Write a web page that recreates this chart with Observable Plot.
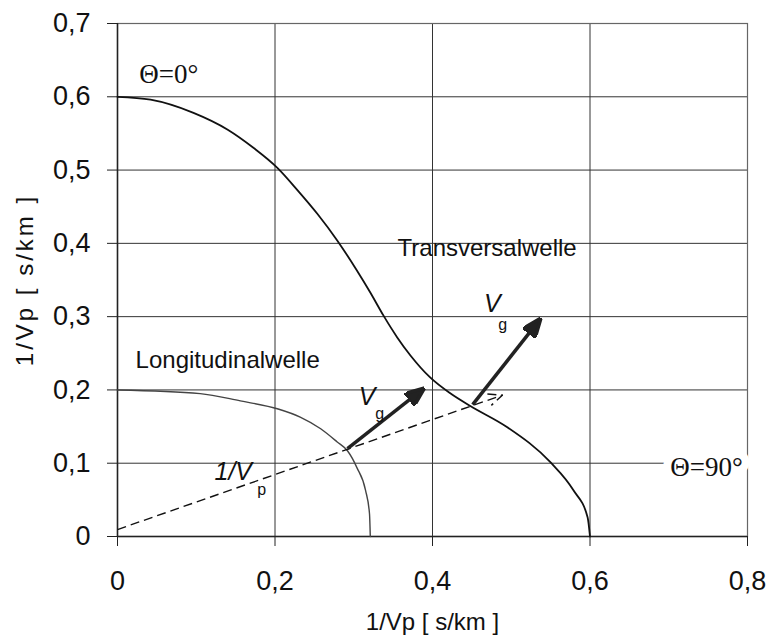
<!DOCTYPE html>
<html>
<head>
<meta charset="utf-8">
<script src="https://cdn.jsdelivr.net/npm/d3@7"></script>
<script src="https://cdn.jsdelivr.net/npm/@observablehq/plot@0.6"></script>
<style>
  body { margin: 0; background: #fff; }
  #chart { width: 767px; height: 640px; }
</style>
</head>
<body>
<div id="chart"></div>
<script>
// ---- data ----
const xTicks = [0, 0.2, 0.4, 0.6, 0.8];
const yTicks = [0, 0.1, 0.2, 0.3, 0.4, 0.5, 0.6, 0.7];

// Transversalwelle slowness curve
const transX = [0, 0.042, 0.0965, 0.140, 0.173, 0.203, 0.229, 0.254, 0.279, 0.304, 0.321, 0.338, 0.355, 0.372, 0.397, 0.423, 0.448, 0.495, 0.550, 0.579, 0.597, 0.600];
const transY = [0.600, 0.596, 0.578, 0.555, 0.530, 0.503, 0.472, 0.440, 0.404, 0.363, 0.333, 0.301, 0.272, 0.247, 0.217, 0.195, 0.178, 0.149, 0.101, 0.063, 0.026, 0];

// Longitudinalwelle slowness curve
const longX = [0, 0.105, 0.156, 0.204, 0.232, 0.258, 0.279, 0.292, 0.304, 0.315, 0.320, 0.321];
const longY = [0.200, 0.195, 0.185, 0.174, 0.163, 0.147, 0.129, 0.117, 0.094, 0.063, 0.031, 0];

// dashed 1/Vp direction
const dashX = [0, 0.489];
const dashY = [0.0095, 0.193];

// group velocity arrows
const vgX1 = [0.292, 0.451];
const vgY1 = [0.120, 0.180];
const vgX2 = [0.389, 0.537];
const vgY2 = [0.202, 0.297];

// labels
const sansLabels = ["Transversalwelle", "Longitudinalwelle"];
const sansLabelX = [0.3556, 0.023];
const sansLabelY = [0.393, 0.240];

const thetaLabels = ["Θ=0°", "Θ=90°"];
const thetaX = [0.065, 0.748];
const thetaY = [0.630, 0.094];

const italicMain = ["V", "V", "1/V"];
const italicMainX = [0.317, 0.476, 0.147];
const italicMainY = [0.190, 0.317, 0.088];
const italicSub = ["g", "g", "p"];
const italicSubX = [0.333, 0.489, 0.183];
const italicSubY = [0.168, 0.289, 0.064];

const axisTitle = "1/Vp [ s/km ]";

// ---- build tables ----
const trans = transX.map((x, i) => ({x, y: transY[i]}));
const longi = longX.map((x, i) => ({x, y: longY[i]}));
const dash = [{x1: dashX[0], y1: dashY[0], x2: dashX[1], y2: dashY[1]}];
const vg = vgX1.map((x1, i) => ({x1, y1: vgY1[i], x2: vgX2[i], y2: vgY2[i]}));
const sans = sansLabels.map((t, i) => ({t, x: sansLabelX[i], y: sansLabelY[i]}));
const theta = thetaLabels.map((t, i) => ({t, x: thetaX[i], y: thetaY[i]}));
const itMain = italicMain.map((t, i) => ({t, x: italicMainX[i], y: italicMainY[i]}));
const itSub = italicSub.map((t, i) => ({t, x: italicSubX[i], y: italicSubY[i]}));

const fmt = d => d === 0 ? "0" : d.toFixed(1).replace(".", ",");

function mk(context, name) {
  const doc = (context && context.document) || document;
  return doc.createElementNS("http://www.w3.org/2000/svg", name);
}
function filledHead(color, context) {
  const m = mk(context, "marker");
  m.setAttribute("viewBox", "0 -8 20 16");
  m.setAttribute("markerWidth", 20);
  m.setAttribute("markerHeight", 16);
  m.setAttribute("markerUnits", "userSpaceOnUse");
  m.setAttribute("refX", 19);
  m.setAttribute("refY", 0);
  m.setAttribute("orient", "auto");
  const p = mk(context, "path");
  p.setAttribute("d", "M0,-8L20,0L0,8Z");
  p.setAttribute("fill", color);
  m.appendChild(p);
  return m;
}
function openHead(color, context) {
  const m = mk(context, "marker");
  m.setAttribute("viewBox", "-16 -9 18 18");
  m.setAttribute("markerWidth", 18);
  m.setAttribute("markerHeight", 18);
  m.setAttribute("markerUnits", "userSpaceOnUse");
  m.setAttribute("refX", 0);
  m.setAttribute("refY", 0);
  m.setAttribute("orient", "auto");
  m.setAttribute("fill", "none");
  const p = mk(context, "path");
  p.setAttribute("d", "M-14,-6L0,0L-14,6");
  p.setAttribute("stroke", color);
  p.setAttribute("stroke-width", 1.5);
  p.setAttribute("fill", "none");
  m.appendChild(p);
  return m;
}

const SANS = "'Liberation Sans', Arial, Helvetica, sans-serif";
const SERIF = "'Liberation Serif', 'Times New Roman', serif";

const chart = Plot.plot({
  width: 767,
  height: 640,
  marginLeft: 117,
  marginRight: 20,
  marginTop: 23,
  marginBottom: 104,
  style: {fontFamily: SANS, fontSize: "27px", color: "#111", background: "#fff"},
  x: {domain: [0, 0.8]},
  y: {domain: [0, 0.7]},
  marks: [
    Plot.gridY(yTicks.slice(1), {stroke: "#333", strokeOpacity: 1, strokeWidth: 1}),
    Plot.gridX([0.2, 0.4, 0.6], {stroke: "#333", strokeOpacity: 1, strokeWidth: 1}),
    Plot.frame({stroke: "#666", strokeWidth: 1.2}),
    Plot.ruleY([0], {stroke: "#222", strokeWidth: 1.5}),
    Plot.ruleX([0], {stroke: "#222", strokeWidth: 1.5}),
    Plot.axisX(xTicks, {tickFormat: fmt, tickSize: 10, tickPadding: 24, label: null, stroke: "#222"}),
    Plot.axisY(yTicks, {tickFormat: fmt, tickSize: 10, tickPadding: 17, label: null, stroke: "#222"}),
    Plot.line(longi, {x: "x", y: "y", curve: "monotone-x", stroke: "#444", strokeWidth: 1.4}),
    Plot.line(trans, {x: "x", y: "y", curve: "monotone-x", stroke: "#111", strokeWidth: 1.8}),
    Plot.link(dash, {x1: "x1", y1: "y1", x2: "x2", y2: "y2", stroke: "#111", strokeWidth: 1.4, strokeDasharray: "9,5", markerEnd: openHead}),
    Plot.link(vg, {x1: "x1", y1: "y1", x2: "x2", y2: "y2", stroke: "#222", strokeWidth: 3.5, markerEnd: filledHead}),
    Plot.text(sans, {x: "x", y: "y", text: "t", textAnchor: "start", fontSize: 24, fontFamily: SANS, fill: "#111"}),
    Plot.text(theta, {x: "x", y: "y", text: "t", fontSize: 27, fontFamily: SERIF, fill: "#111", stroke: "white", strokeWidth: 16, paintOrder: "stroke"}),
    Plot.text(itMain, {x: "x", y: "y", text: "t", fontSize: 25, fontStyle: "italic", fontFamily: SANS, fill: "#111"}),
    Plot.text(itSub, {x: "x", y: "y", text: "t", fontSize: 16, fontFamily: SANS, fill: "#111"}),
    Plot.text([axisTitle], {frameAnchor: "bottom", textAnchor: "middle", lineAnchor: "middle", dy: 86, fontSize: 24, fontFamily: SANS, fill: "#111"}),
    Plot.text([axisTitle], {frameAnchor: "left", textAnchor: "middle", lineAnchor: "middle", dx: -92, rotate: -90, fontSize: 24, fontFamily: SANS, fill: "#111"})
  ]
});
document.getElementById("chart").appendChild(chart);
// wider letter spacing on the rotated y title, as in the reference
chart.querySelectorAll("text").forEach(t => {
  if (t.textContent === axisTitle && (t.getAttribute("transform") || "").includes("rotate")) {
    t.setAttribute("letter-spacing", "3px");
  }
});
</script>
</body>
</html>
